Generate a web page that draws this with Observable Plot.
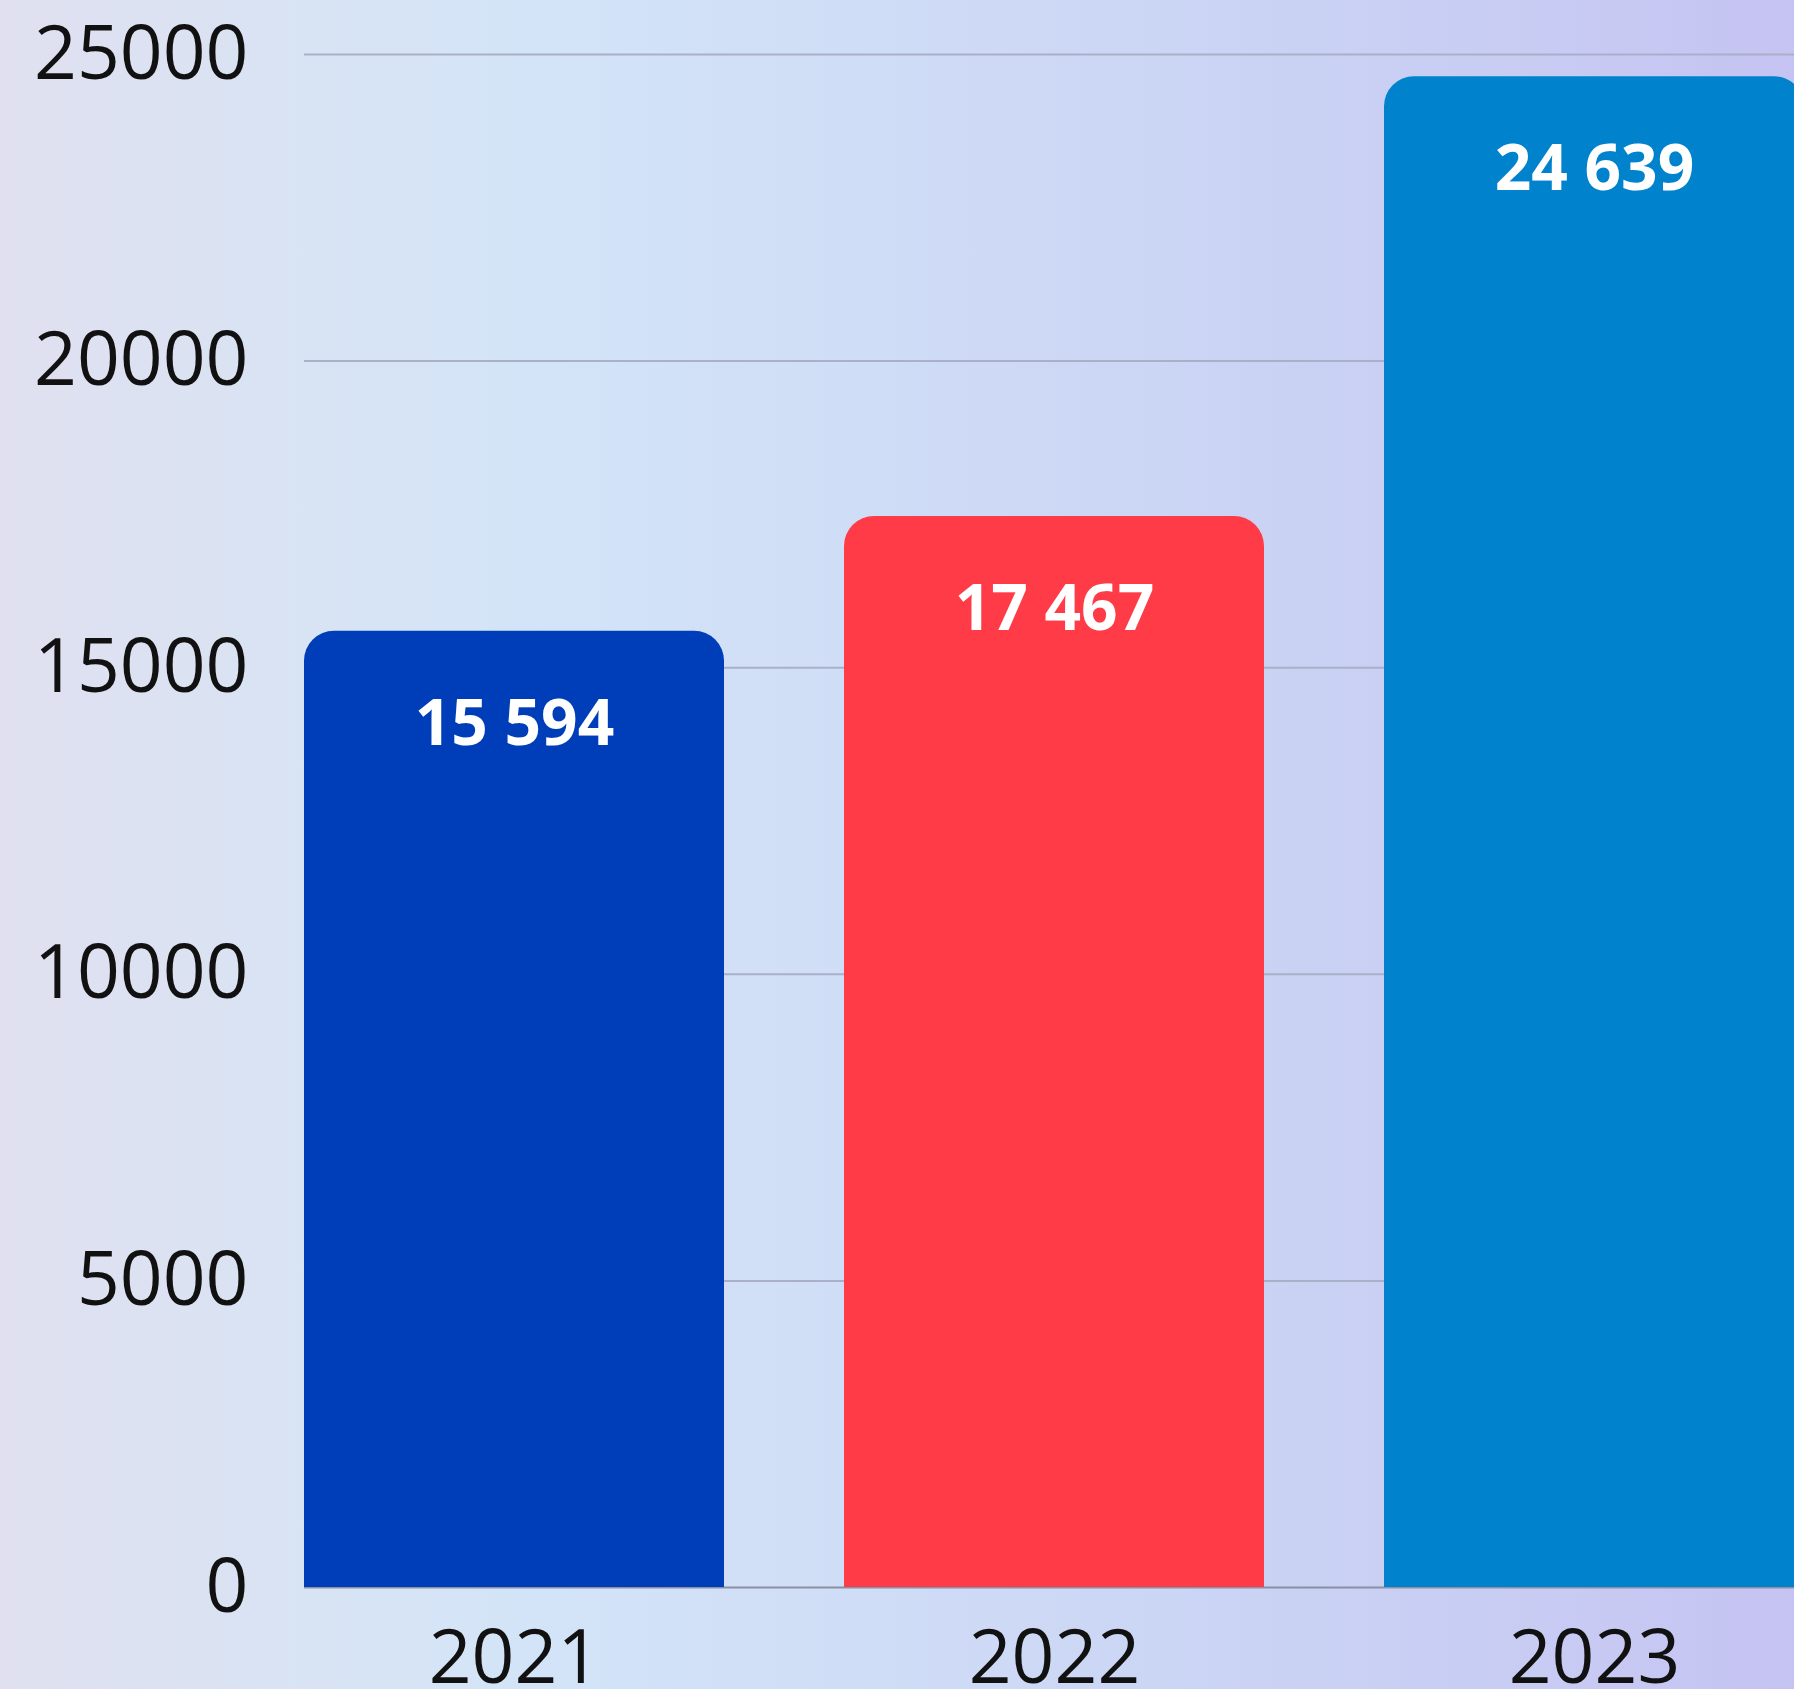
<!DOCTYPE html>
<html>
<head>
<meta charset="utf-8">
<script src="https://cdn.jsdelivr.net/npm/d3@7"></script>
<script src="https://cdn.jsdelivr.net/npm/@observablehq/plot@0.6"></script>
<style>
  html, body { margin: 0; padding: 0; overflow: hidden; }
  body {
    width: 1794px; height: 1689px;
    background: linear-gradient(90deg, #e0e0f0 0%, #d8e4f4 18%, #d3e4f8 30%, #cfdcf6 50%, #cad3f4 70%, #c8ccf3 85%, #c5c3f2 100%);
    font-family: "Open Sans", sans-serif;
  }
  #chart svg { display: block; }
</style>
</head>
<body>
<div id="chart"></div>
<script>
const years = ["2021", "2022", "2023"];
const values = [15594, 17467, 24639];
const yTicks = [0, 5000, 10000, 15000, 20000, 25000];
const barColors = ["#003db8", "#ff3b47", "#0082cc"];

const data = years.map((year, i) => ({year, value: values[i]}));
const fmt = d3.formatLocale({decimal: ",", thousands: "\u00a0", grouping: [3], currency: ["", ""]}).format(",d");

const chart = Plot.plot({
  width: 1794,
  height: 1689,
  marginLeft: 304,
  marginRight: 0,
  marginTop: 54,
  marginBottom: 102,
  style: {background: "transparent", overflow: "hidden", fontFamily: "'Open Sans', sans-serif", color: "#111"},
  x: {domain: years, range: [304, 1804], paddingInner: 120 / 540, paddingOuter: 0, label: null},
  y: {domain: [0, 25000], label: null},
  color: {domain: years, range: barColors},
  marks: [
    Plot.ruleY(yTicks.filter(d => d > 0), {stroke: "#a9b0c8", strokeWidth: 2}),
    Plot.ruleY([0], {stroke: "#8a90a4", strokeWidth: 2}),
    Plot.barY(data, {x: "year", y: "value", fill: "year", rx: 30}),
    Plot.barY(data, {x: "year", y: "value", fill: "year", insetTop: 40}),
    Plot.text(data, {x: "year", y: "value", text: d => fmt(d.value), dy: 93, fill: "white", fontSize: 64, fontWeight: "bold", lineAnchor: "middle"}),
    Plot.axisY({ticks: yTicks, tickSize: 0, tickPadding: 56, fontSize: 75, tickFormat: d => String(d), label: null}),
    Plot.axisX({tickSize: 0, tickPadding: 42, fontSize: 75, label: null})
  ]
});
document.getElementById("chart").appendChild(chart);
</script>
</body>
</html>
